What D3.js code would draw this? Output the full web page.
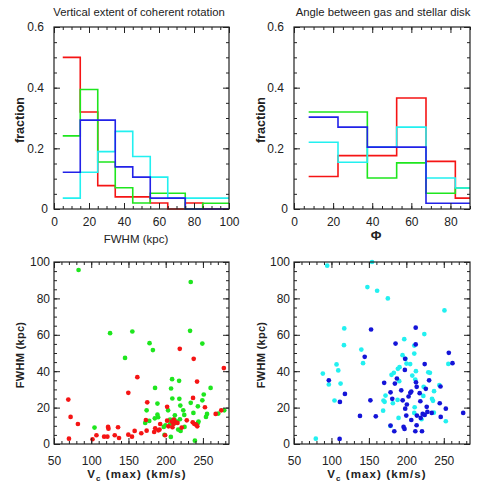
<!DOCTYPE html>
<html>
<head>
<meta charset="utf-8">
<script src="https://cdn.jsdelivr.net/npm/d3@7"></script>
<style>
body { margin: 0; background: #fff; }
text { font-family: "Liberation Sans", Arial, sans-serif; fill: #222; }
</style>
</head>
<body>
<div id="chart"></div>
<script>
/* Histogram of FWHM: left bin edges and fractions */
var fwhmEdges = [5, 15, 25, 35, 45, 55, 65, 75, 85, 95];
var fwhmRed   = [0.50, 0.32, 0.077, 0.040, 0.040, 0.020, 0, 0.020, 0, 0];
var fwhmGreen = [0.241, 0.394, 0.155, 0.070, 0.020, 0.052, 0.052, 0, 0.019, 0.019];
var fwhmBlue  = [0.121, 0.293, 0.293, 0.139, 0.105, 0.036, 0.036, 0, 0, 0];
var fwhmCyan  = [0.036, 0.121, 0.189, 0.256, 0.173, 0.105, 0.036, 0.036, 0.036, 0.036];

/* Histogram of angle phi */
var phiEdges = [7.5, 22.5, 37.5, 52.5, 67.5, 82.5];
var phiRed   = [0.107, 0.176, 0.176, 0.366, 0.157, 0.036];
var phiGreen = [0.320, 0.320, 0.102, 0.152, 0.052, 0.069];
var phiBlue  = [0.303, 0.270, 0.204, 0.204, 0.019, 0.019];
var phiCyan  = [0.220, 0.154, 0.204, 0.270, 0.102, 0.069];

/* Scatter: [Vc(max), FWHM] */
var redPts = [[69.2,24.4],[72.3,14.9],[82.1,11.0],[70.1,2.9],[101.7,2.6],[107,4.8],[117.3,4.0],
  [122.6,9.4],[123.1,8.4],[121.7,4.0],[131.6,4.8],[136,9.2],[137.3,3.3],[149.8,28.1],[161.9,36.7],
  [149.8,5.1],[154.7,4.0],[158.3,7.2],[167.2,5.9],[218.9,52.3],[237.6,46.8],[278.1,41.7],[242.1,34.3],
  [175.2,22.9],[201.9,20.4],[236.7,25.3],[252.7,20.2],[267.1,16.5],[274.6,18.5],[173.4,13.2],
  [201.9,12.8],[210.8,13.4],[212.6,12.1],[215.8,11.6],[228.3,13.0],[236.3,11.9],[238.5,11.0],
  [241,10.6],[242.4,9.7],[209.1,9.2],[221.5,9.0],[203.7,9.7],[190.2,7.5],[192.6,11.0],[185.9,8.6],
  [184.5,6.6],[191.7,7.9],[174.4,7.3],[199.2,4.8],[210.4,11.0],[208.3,12.3]];
var greenPts = [[83,95.6],[125.3,60.9],[155.2,61.8],[145.4,47.3],[104.4,9.0],[233.6,89.0],[232.7,62.2],
  [178.3,55.4],[182.8,51.6],[249.2,55.2],[208.6,35.6],[218,34.7],[260.3,30.8],[185.7,30.8],[207.2,30.5],
  [251.1,27.2],[208.9,25.0],[218.3,24.8],[233.6,22.6],[188.9,22.2],[249.2,24.0],[174.4,18.5],[203.2,18.5],
  [219.6,21.1],[223.6,18.5],[243.2,20.7],[237.2,17.1],[255.5,16.5],[254.1,14.9],[270.6,16.7],[278.6,18.5],
  [188.9,16.1],[189.8,14.7],[185.4,14.1],[172.5,11.6],[177.9,12.7],[212.3,15.8],[219.1,13.6],[224.9,16.0],
  [205.9,13.4],[211.7,13.4],[213.1,11.6],[215.3,12.3],[216.8,7.9],[220,7.2],[199.7,10.3],[197.4,9.4],
  [205.9,11.0],[206.9,3.9],[198.4,5.0],[225.3,9.4],[239.2,1.8],[243.2,11.6],[244.1,12.3]];
var bluePts = [[152.9,62.9],[144.4,47.9],[96.5,35.0],[170.4,33.6],[118,27.5],[111.3,23.1],[152,24.0],
  [138.1,15.4],[159.2,15.2],[110.9,2.8],[212.5,63.9],[185.6,55.2],[212.5,54.7],[256.7,50.1],[261.6,44.4],
  [198.4,46.8],[224.5,43.9],[198,40.7],[187.4,36],[212.9,33.9],[184.7,33.2],[213.8,31.4],[226,30.3],
  [230.4,35],[245.6,31.6],[178.9,28.4],[193.2,29.5],[205.3,28.1],[206.6,28.8],[203,26.1],[217.8,27.9],
  [181.2,24.8],[195.1,24],[218.7,23.5],[200.7,21.7],[198.5,19.4],[244.6,22.4],[227.2,20.4],[252.7,19.4],
  [275.9,17.1],[199.9,15.6],[221.8,16.5],[228.1,17.6],[224.5,16],[233.9,17.1],[219.2,14.3],[206.6,13.2],
  [214.1,15.6],[245.9,14.9],[213.7,10.3],[178.9,10.1],[196.3,9.4],[197.6,8.3],[183.9,7],[212,7],[220.9,7]];
var cyanPts = [[94.3,98],[154.2,100],[148,86.2],[161,84.2],[117.1,63.5],[116.7,54.3],[139.9,51.9],
  [142.2,44.4],[106.8,43.7],[109.1,40.4],[88.5,38.7],[96.5,32.7],[112.2,33.2],[104.1,23.9],[79.1,2.9],
  [175.3,80],[250.9,73.4],[224,60.4],[197.2,57.6],[210.6,54.1],[210.6,49.7],[194.9,48.8],[198.9,46.8],
  [200.2,44.2],[205.1,43.9],[256.1,44],[190.9,42.2],[188.7,41.3],[180.2,38],[183.3,39.1],[212.8,40],
  [207.9,37.6],[229.3,39.4],[231.5,39.1],[190.5,34.5],[211.9,35.4],[223.1,31.4],[244.1,32.3],[237,29],
  [172.2,26.6],[188.3,24.2],[169.5,23.9],[171,23.2],[182,22.4],[211.1,20.2],[234.3,24.8],[235.6,23.7],
  [169,18.3],[210.6,17.1],[236.7,17.2],[222.7,26.4],[189.6,14.3],[220.3,13.6],[178.8,9.9],[252.7,12.5]];

var red = "#f51414", green = "#1ee61e", blue = "#2222e8", cyan = "#22f0f0";
var dotBlue = "#1414d8";

var svg = d3.select("#chart").append("svg")
  .attr("width", 496)
  .attr("height", 496);

/* draw frame + inward ticks on all four sides */
function frame(x, y, o) {
  var g = svg.append("g");
  var x0 = x.range()[0], x1 = x.range()[1], y0 = y.range()[1], y1 = y.range()[0];

  function ax(gen, tr, vals, size, fmt, pad) {
    var a = g.append("g")
      .attr("transform", tr)
      .call(gen.tickValues(vals).tickSizeInner(-size).tickSizeOuter(0)
        .tickPadding(pad || 3).tickFormat(fmt || ""));
    a.select(".domain").remove();
    a.selectAll("line").attr("stroke", "#222");
    a.selectAll("text").style("font-size", "12px").attr("fill", "#222");
    return a;
  }
  ax(d3.axisBottom(x), `translate(0,${y1})`, o.xMinor, 3);
  ax(d3.axisTop(x), `translate(0,${y0})`, o.xMinor, 3);
  ax(d3.axisTop(x), `translate(0,${y0})`, o.xMajor, 6);
  ax(d3.axisLeft(y), `translate(${x0},0)`, o.yMinor, 3);
  ax(d3.axisRight(y), `translate(${x1},0)`, o.yMinor, 3);
  ax(d3.axisRight(y), `translate(${x1},0)`, o.yMajor, 6);
  ax(d3.axisBottom(x), `translate(0,${y1})`, o.xMajor, 6, o.xFmt, o.xPad);
  var ya = ax(d3.axisLeft(y), `translate(${x0},0)`, o.yMajor, 6, o.yFmt, o.yPad);
  if (o.zeroShift) ya.selectAll("text").filter(d => d === 0).attr("dx", o.zeroShift);

  g.append("rect")
    .attr("x", x0).attr("y", y0)
    .attr("width", x1 - x0).attr("height", y1 - y0)
    .attr("fill", "none").attr("stroke", "#222").attr("stroke-width", 1.2);
}

function hist(x, y, edges, vals, color) {
  var pts = edges.map((e, i) => [e, vals[i]]);
  pts.push([x.domain()[1], vals[vals.length - 1]]);
  var line = d3.line().curve(d3.curveStepAfter)
    .x(d => x(d[0])).y(d => y(d[1]));
  svg.append("path")
    .attr("d", line(pts))
    .attr("fill", "none")
    .attr("stroke", color)
    .attr("stroke-width", 1.6);
}

function dots(x, y, pts, color) {
  svg.append("g").selectAll("circle")
    .data(pts).enter()
    .append("circle")
    .attr("cx", d => x(d[0]))
    .attr("cy", d => y(d[1]))
    .attr("r", 2.35)
    .attr("fill", color);
}

var fracFmt = d => d === 0 ? "0" : d3.format(".1f")(d);

/* top left */
var x1 = d3.scaleLinear().domain([0, 100]).range([54, 229]);
var yF1 = d3.scaleLinear().domain([0, 0.6]).range([209, 27]);
hist(x1, yF1, fwhmEdges, fwhmRed, red);
hist(x1, yF1, fwhmEdges, fwhmGreen, green);
hist(x1, yF1, fwhmEdges, fwhmCyan, cyan);
hist(x1, yF1, fwhmEdges, fwhmBlue, blue);
frame(x1, yF1, {
  xMajor: d3.range(0, 101, 20), xMinor: d3.range(0, 101, 5),
  yMajor: [0, 0.2, 0.4, 0.6], yMinor: d3.range(0, 0.61, 0.05),
  xFmt: d3.format("d"), yFmt: fracFmt, xPad: 8, yPad: 10, zeroShift: 4
});

/* top right */
var x2 = d3.scaleLinear().domain([0, 90]).range([294, 470]);
var yF2 = d3.scaleLinear().domain([0, 0.6]).range([209, 27]);
hist(x2, yF2, phiEdges, phiRed, red);
hist(x2, yF2, phiEdges, phiGreen, green);
hist(x2, yF2, phiEdges, phiCyan, cyan);
hist(x2, yF2, phiEdges, phiBlue, blue);
frame(x2, yF2, {
  xMajor: d3.range(0, 81, 20), xMinor: d3.range(0, 91, 5),
  yMajor: [0, 0.2, 0.4, 0.6], yMinor: d3.range(0, 0.61, 0.05),
  xFmt: d3.format("d"), yFmt: fracFmt, xPad: 8, yPad: 10, zeroShift: 4
});

/* bottom left */
var x3 = d3.scaleLinear().domain([50, 285]).range([54, 229]);
var y3 = d3.scaleLinear().domain([0, 100]).range([444, 262]);
dots(x3, y3, greenPts, green);
dots(x3, y3, redPts, red);
frame(x3, y3, {
  xMajor: d3.range(50, 251, 50), xMinor: d3.range(50, 281, 10),
  yMajor: d3.range(0, 101, 20), yMinor: d3.range(0, 101, 5),
  xFmt: d3.format("d"), yFmt: d3.format("d"), xPad: 12, yPad: 4
});

/* bottom right */
var x4 = d3.scaleLinear().domain([50, 285]).range([294, 470]);
var y4 = d3.scaleLinear().domain([0, 100]).range([444, 262]);
dots(x4, y4, cyanPts, cyan);
dots(x4, y4, bluePts, dotBlue);
frame(x4, y4, {
  xMajor: d3.range(50, 251, 50), xMinor: d3.range(50, 281, 10),
  yMajor: d3.range(0, 101, 20), yMinor: d3.range(0, 101, 5),
  xFmt: d3.format("d"), yFmt: d3.format("d"), xPad: 12, yPad: 4
});

/* titles and axis labels */
svg.append("text").attr("x", 139).attr("y", 15.5).attr("text-anchor", "middle")
  .style("font-size", "11.3px").text("Vertical extent of coherent rotation");
svg.append("text").attr("x", 383).attr("y", 15.5).attr("text-anchor", "middle")
  .style("font-size", "11.3px").text("Angle between gas and stellar disk");

svg.append("text").attr("x", 136).attr("y", 243).attr("text-anchor", "middle")
  .style("font-size", "11.5px").text("FWHM (kpc)");
svg.append("text").attr("x", 376).attr("y", 239.5).attr("text-anchor", "middle")
  .style("font-size", "13px").style("font-weight", "bold").text("\u03A6");

[[24, 120], [265, 120]].forEach(function(p) {
  svg.append("text")
    .attr("transform", `translate(${p[0]},${p[1]}) rotate(-90)`)
    .attr("text-anchor", "middle")
    .style("font-size", "12.5px").style("font-weight", "bold")
    .text("fraction");
});
[[24, 355], [265, 355]].forEach(function(p) {
  svg.append("text")
    .attr("transform", `translate(${p[0]},${p[1]}) rotate(-90)`)
    .attr("text-anchor", "middle")
    .style("font-size", "11px").style("font-weight", "bold")
    .style("letter-spacing", "0.3px")
    .text("FWHM (kpc)");
});
[137, 377].forEach(function(cx) {
  var t = svg.append("text")
    .attr("x", cx).attr("y", 478)
    .attr("text-anchor", "middle")
    .style("font-size", "11.5px").style("font-weight", "bold")
    .style("letter-spacing", "1.1px");
  t.append("tspan").text("V");
  t.append("tspan").attr("dy", 2.5).style("font-size", "8px").text("c");
  t.append("tspan").attr("dy", -2.5).text(" (max) (km/s)");
});
</script>
</body>
</html>
